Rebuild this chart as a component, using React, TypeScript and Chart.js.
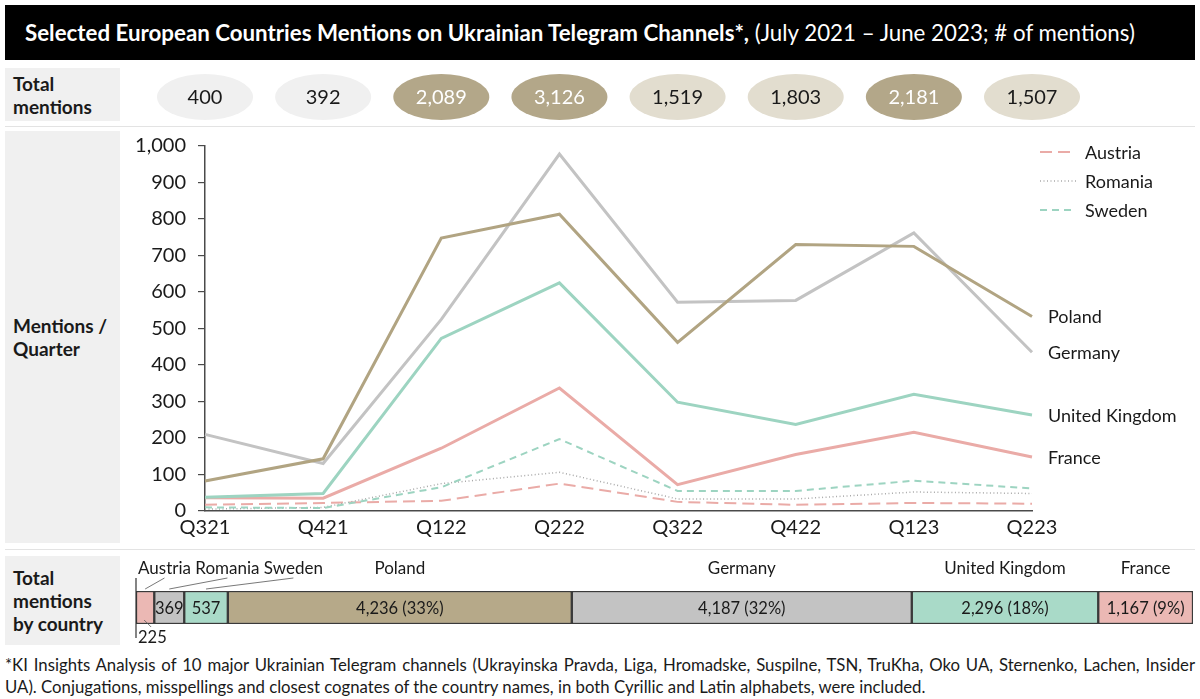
import React, { useEffect, useRef } from "react";
import { Chart, registerables } from "chart.js";

Chart.register(...registerables);

const FONT = "Lato, 'Noto Sans', sans-serif";
const TEXT = "#1a1a1a";

// ---------- data ----------
const quarters = ["Q321", "Q421", "Q122", "Q222", "Q322", "Q422", "Q123", "Q223"];
const totalMentions = [400, 392, 2089, 3126, 1519, 1803, 2181, 1507];

const poland = [82, 143, 748, 813, 462, 730, 725, 533];
const germany = [210, 130, 525, 978, 572, 577, 762, 435];
const unitedKingdom = [38, 48, 473, 625, 298, 237, 320, 263];
const france = [36, 35, 172, 337, 72, 155, 216, 148];
const sweden = [10, 8, 65, 197, 55, 55, 83, 62];
const romania = [5, 10, 75, 106, 33, 33, 52, 48];
const austria = [17, 22, 28, 75, 25, 17, 22, 20];

const yTickValues = [0, 100, 200, 300, 400, 500, 600, 700, 800, 900, 1000];

const countryNames = ["Austria", "Romania", "Sweden", "Poland", "Germany", "United Kingdom", "France"];
const countryTotals = [225, 369, 537, 4236, 4187, 2296, 1167];

const legendOrder = ["Austria", "Romania", "Sweden"];

// ---------- styles ----------
const C_POLAND = "#b1a482";
const C_GERMANY = "#c3c3c3";
const C_UK = "#9dd4c1";
const C_FRANCE = "#eaaba7";
const C_ROMANIA = "#a9a9a9";

const lineSeries = [
  { label: "Poland", data: poland, color: C_POLAND, dash: [] as number[], width: 3, endLabel: true },
  { label: "Germany", data: germany, color: C_GERMANY, dash: [] as number[], width: 3, endLabel: true },
  { label: "United Kingdom", data: unitedKingdom, color: C_UK, dash: [] as number[], width: 3, endLabel: true },
  { label: "France", data: france, color: C_FRANCE, dash: [] as number[], width: 3, endLabel: true },
  { label: "Sweden", data: sweden, color: C_UK, dash: [7, 5], width: 2, endLabel: false },
  { label: "Romania", data: romania, color: C_ROMANIA, dash: [1, 2.5], width: 1.5, endLabel: false },
  { label: "Austria", data: austria, color: C_FRANCE, dash: [12, 6], width: 2, endLabel: false },
];

const barColors = ["#ebb8b4", "#c3c3c3", "#a9dac8", "#b6a989", "#c3c3c3", "#a9dac8", "#ebb8b4"];

const fmt = (v: number) => v.toLocaleString("en-US");

function ellipseStyle(v: number) {
  if (v >= 2000) return { fill: "#b3a789", text: "#ffffff" };
  if (v >= 1000) return { fill: "#e2ddcf", text: TEXT };
  return { fill: "#f0f0f0", text: TEXT };
}

const lineDecor = {
  id: "lineDecor",
  afterDatasetsDraw(chart: any) {
    const { ctx, chartArea, scales } = chart;
    const x = scales.x;
    const y = scales.y;
    ctx.save();
    // total mention ellipses
    const cy = chartArea.top - 49;
    totalMentions.forEach((v, i) => {
      const cx = x.getPixelForValue(i);
      const st = ellipseStyle(v);
      ctx.beginPath();
      ctx.ellipse(cx, cy, 48, 23, 0, 0, Math.PI * 2);
      ctx.fillStyle = st.fill;
      ctx.fill();
      ctx.fillStyle = st.text;
      ctx.font = `20px ${FONT}`;
      ctx.textAlign = "center";
      ctx.textBaseline = "middle";
      ctx.fillText(fmt(v), cx, cy + 1);
    });
    // end labels
    ctx.font = `18px ${FONT}`;
    ctx.textAlign = "left";
    ctx.textBaseline = "middle";
    ctx.fillStyle = TEXT;
    lineSeries.forEach((s) => {
      if (!s.endLabel) return;
      const last = s.data[s.data.length - 1];
      ctx.fillText(s.label, chartArea.right + 16, y.getPixelForValue(last) + 1);
    });
    // legend
    legendOrder.forEach((name, i) => {
      const s = lineSeries.find((d) => d.label === name)!;
      const ly = chartArea.top + 6 + i * 29;
      ctx.beginPath();
      ctx.setLineDash(s.dash);
      ctx.strokeStyle = s.color;
      ctx.lineWidth = s.width;
      ctx.moveTo(chartArea.right + 8, ly);
      ctx.lineTo(chartArea.right + 44, ly);
      ctx.stroke();
      ctx.setLineDash([]);
      ctx.fillStyle = TEXT;
      ctx.fillText(name, chartArea.right + 53, ly + 1);
    });
    ctx.restore();
  },
};

const barDecor = {
  id: "barDecor",
  afterDatasetsDraw(chart: any) {
    const { ctx, chartArea } = chart;
    const total = countryTotals.reduce((a, b) => a + b, 0);
    ctx.save();
    ctx.fillStyle = TEXT;
    ctx.textBaseline = "middle";
    // left axis line
    ctx.strokeStyle = "#333";
    ctx.lineWidth = 1.2;
    ctx.beginPath();
    ctx.moveTo(chartArea.left, chartArea.top - 13);
    ctx.lineTo(chartArea.left, chartArea.bottom + 14);
    ctx.stroke();

    const nameFont = `17px ${FONT}`;
    const valueFont = `16.5px ${FONT}`;
    let smallX = chartArea.left + 2;
    countryTotals.forEach((v, i) => {
      const el = chart.getDatasetMeta(i).data[0];
      const p = el.getProps(["x", "base", "y", "height"], true);
      const left = Math.min(p.x, p.base);
      const right = Math.max(p.x, p.base);
      const cx = (left + right) / 2;
      const top = p.y - p.height / 2;
      const bottom = p.y + p.height / 2;
      const pct = (v / total) * 100;
      ctx.fillStyle = TEXT;
      if (pct >= 5) {
        ctx.textAlign = "center";
        ctx.font = valueFont;
        ctx.fillText(`${fmt(v)} (${Math.round(pct)}%)`, cx, p.y + 1);
        ctx.font = nameFont;
        ctx.fillText(countryNames[i], cx, top - 22);
      } else {
        // clustered names with leader lines
        ctx.font = nameFont;
        ctx.textAlign = "left";
        const w = ctx.measureText(countryNames[i]).width;
        ctx.fillText(countryNames[i], smallX, top - 22);
        const lx = smallX + w / 2;
        ctx.strokeStyle = "#555";
        ctx.lineWidth = 0.8;
        ctx.beginPath();
        ctx.moveTo(lx, top - 13);
        ctx.lineTo(cx, top - 2);
        ctx.stroke();
        smallX += w + ctx.measureText(" ").width;
        ctx.font = valueFont;
        if (pct >= 2.5) {
          ctx.textAlign = "center";
          ctx.fillText(fmt(v), cx, p.y + 1);
        } else {
          ctx.beginPath();
          ctx.moveTo(cx - 1, bottom - 4);
          ctx.lineTo(cx + 6, bottom + 3);
          ctx.stroke();
          ctx.textAlign = "left";
          ctx.fillText(fmt(v), chartArea.left + 2, bottom + 14);
        }
      }
    });
    ctx.restore();
  },
};

const grayBox: React.CSSProperties = {
  position: "absolute",
  left: 5,
  width: 115,
  background: "#f0f0f0",
  display: "flex",
  alignItems: "center",
  paddingLeft: 8,
  boxSizing: "border-box",
  fontFamily: FONT,
  fontWeight: 700,
  fontSize: 19,
  lineHeight: "23px",
  color: TEXT,
};

const sep: React.CSSProperties = {
  position: "absolute",
  left: 5,
  width: 1190,
  height: 1,
  background: "#e3e3e3",
};

export default function App() {
  const lineRef = useRef<HTMLCanvasElement>(null);
  const barRef = useRef<HTMLCanvasElement>(null);

  useEffect(() => {
    const lineChart = new Chart(lineRef.current!, {
      type: "line",
      data: {
        labels: quarters,
        datasets: lineSeries.map((s) => ({
          label: s.label,
          data: s.data,
          borderColor: s.color,
          backgroundColor: s.color,
          borderWidth: s.width,
          borderDash: s.dash,
          pointRadius: 0,
          tension: 0,
          fill: false,
        })),
      },
      options: {
        animation: false,
        responsive: false,
        maintainAspectRatio: false,
        layout: { padding: { left: 0, right: 168, top: 86, bottom: 0 } },
        plugins: { legend: { display: false }, tooltip: { enabled: false } },
        scales: {
          x: {
            offset: false,
            grid: { display: false, drawTicks: false },
            border: { display: true, color: "#4a4a4a", width: 1.5 },
            ticks: { color: TEXT, font: { family: FONT, size: 20 }, padding: 5, maxRotation: 0 },
            afterFit: (s: any) => {
              s.height = 39;
            },
          },
          y: {
            min: 0,
            max: 1000,
            afterBuildTicks: (s: any) => {
              s.ticks = yTickValues.map((v) => ({ value: v }));
            },
            grid: { display: true, drawOnChartArea: false, drawTicks: true, tickLength: 7, color: "#4a4a4a", lineWidth: 1.2 },
            border: { display: true, color: "#4a4a4a", width: 1.5 },
            ticks: {
              color: TEXT,
              font: { family: FONT, size: 20 },
              padding: 12,
              callback: (v: any) => fmt(Number(v)),
            },
            afterFit: (s: any) => {
              s.width = 205;
            },
          },
        },
      },
      plugins: [lineDecor],
    });

    const total = countryTotals.reduce((a, b) => a + b, 0);
    const barChart = new Chart(barRef.current!, {
      type: "bar",
      data: {
        labels: ["Total"],
        datasets: countryNames.map((n, i) => ({
          label: n,
          data: [countryTotals[i]],
          backgroundColor: barColors[i],
          borderColor: "#3a3a3a",
          borderWidth: 1.5,
          borderSkipped: false,
          barPercentage: 1,
          categoryPercentage: 1,
        })),
      },
      options: {
        indexAxis: "y",
        animation: false,
        responsive: false,
        maintainAspectRatio: false,
        layout: { padding: { left: 36, right: 7, top: 41, bottom: 26 } },
        plugins: { legend: { display: false }, tooltip: { enabled: false } },
        scales: {
          x: { stacked: true, display: false, min: 0, max: total },
          y: { stacked: true, display: false },
        },
      },
      plugins: [barDecor],
    });

    return () => {
      lineChart.destroy();
      barChart.destroy();
    };
  }, []);

  return (
    <div style={{ position: "absolute", left: 0, top: 0, width: 1200, height: 699, background: "#fff", overflow: "hidden", fontFamily: FONT, color: TEXT }}>
      <div
        style={{
          position: "absolute",
          left: 5,
          top: 5,
          width: 1190,
          height: 55,
          background: "#000",
          color: "#fff",
          fontSize: 22.3,
          lineHeight: "55px",
          paddingLeft: 20,
          boxSizing: "border-box",
          whiteSpace: "nowrap",
        }}
      >
        <span style={{ fontWeight: 700 }}>Selected European Countries Mentions on Ukrainian Telegram Channels*,</span>
        <span> (July 2021 – June 2023; # of mentions)</span>
      </div>

      <div style={{ ...grayBox, top: 68, height: 53 }}>
        Total
        <br />
        mentions
      </div>
      <div style={{ ...sep, top: 126 }} />
      <div style={{ ...grayBox, top: 131, height: 412 }}>
        Mentions /
        <br />
        Quarter
      </div>
      <div style={{ ...sep, top: 549 }} />
      <div style={{ ...grayBox, top: 556, height: 89 }}>
        Total
        <br />
        mentions
        <br />
        by country
      </div>

      <canvas ref={lineRef} width={1200} height={490} style={{ position: "absolute", left: 0, top: 60, width: 1200, height: 490 }} />
      <canvas ref={barRef} width={1100} height={100} style={{ position: "absolute", left: 100, top: 550, width: 1100, height: 100 }} />

      <div
        style={{
          position: "absolute",
          left: 5,
          top: 654,
          width: 1190,
          fontSize: 16.75,
          lineHeight: "22px",
          textAlign: "justify",
          textAlignLast: "justify",
          whiteSpace: "nowrap",
        }}
      >
        *KI Insights Analysis of 10 major Ukrainian Telegram channels (Ukrayinska Pravda, Liga, Hromadske, Suspilne, TSN, TruKha, Oko UA, Sternenko, Lachen, Insider
      </div>
      <div style={{ position: "absolute", left: 5, top: 676, width: 1190, fontSize: 16.75, lineHeight: "22px", whiteSpace: "nowrap" }}>
        UA). Conjugations, misspellings and closest cognates of the country names, in both Cyrillic and Latin alphabets, were included.
      </div>
    </div>
  );
}
